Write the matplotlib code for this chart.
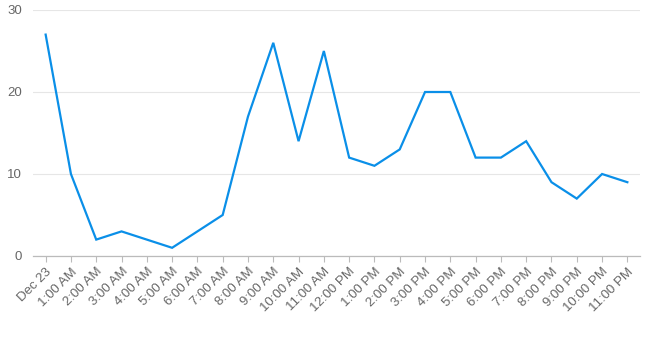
import matplotlib
matplotlib.use('Agg')
import matplotlib.pyplot as plt

# hourly counts for Dec 23
hours = ['Dec 23', '1:00 AM', '2:00 AM', '3:00 AM', '4:00 AM', '5:00 AM',
         '6:00 AM', '7:00 AM', '8:00 AM', '9:00 AM', '10:00 AM', '11:00 AM',
         '12:00 PM', '1:00 PM', '2:00 PM', '3:00 PM', '4:00 PM', '5:00 PM',
         '6:00 PM', '7:00 PM', '8:00 PM', '9:00 PM', '10:00 PM', '11:00 PM']
counts = [27, 10, 2, 3, 2, 1, 3, 5, 17, 26, 14, 25,
          12, 11, 13, 20, 20, 12, 12, 14, 9, 7, 10, 9]
y_ticks = [0, 10, 20, 30]

plt.rcParams['font.family'] = ['Liberation Sans', 'DejaVu Sans']

fig = plt.figure(figsize=(6.57, 3.41), dpi=100)
ax = fig.add_axes([33 / 657, 1 - 256 / 341, 607 / 657, 246 / 341])

x = list(range(len(hours)))
ax.plot(x, counts, color='#0a8fe8', linewidth=1.6, solid_joinstyle='miter', zorder=3)

ax.set_xlim(-0.5, len(hours) - 0.5)
ax.set_ylim(0, 30)
ax.set_yticks(y_ticks)
ax.set_xticks(x)
ax.set_xticklabels(hours, rotation=45, ha='right', rotation_mode='anchor')

ax.grid(axis='y', color='#e6e6e6', linewidth=0.8)
ax.set_axisbelow(True)
for side in ['top', 'right', 'left']:
    ax.spines[side].set_visible(False)
ax.spines['bottom'].set_color('#bbbbbb')
ax.spines['bottom'].set_linewidth(0.9)

ax.tick_params(axis='x', colors='#bbbbbb', labelcolor='#666666', labelsize=9.5,
               length=4, width=0.8, pad=3)
ax.tick_params(axis='y', labelcolor='#666666', labelsize=9.5, length=0, pad=8)

fig.savefig('out.png', dpi=100)
